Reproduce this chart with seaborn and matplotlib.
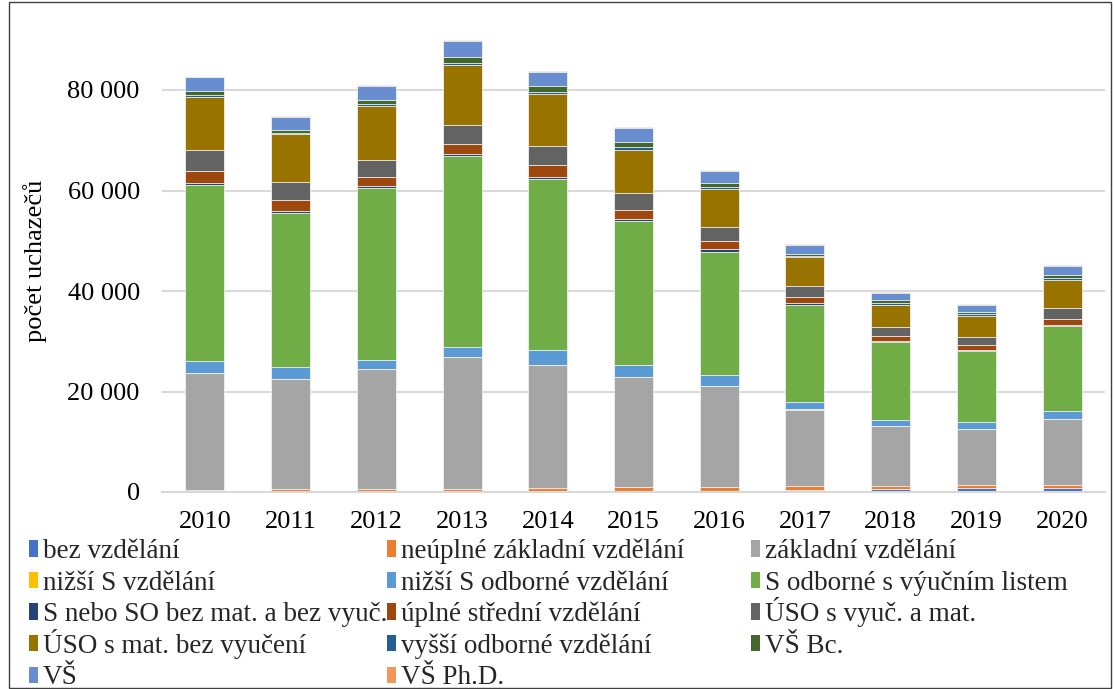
import numpy as np
import pandas as pd
import matplotlib
matplotlib.use("Agg")
import matplotlib.pyplot as plt
import seaborn as sns
from matplotlib.patches import Patch, Rectangle
from matplotlib.ticker import FuncFormatter

# ---------------- data ----------------
years = ["2010", "2011", "2012", "2013", "2014", "2015", "2016", "2017", "2018", "2019", "2020"]

series_names = [
    "bez vzdělání", "neúplné základní vzdělání", "základní vzdělání",
    "nižší S vzdělání", "nižší S odborné vzdělání", "S odborné s výučním listem",
    "S nebo SO bez mat. a bez vyuč.", "úplné střední vzdělání", "ÚSO s vyuč. a mat.",
    "ÚSO s mat. bez vyučení", "vyšší odborné vzdělání", "VŠ Bc.",
    "VŠ", "VŠ Ph.D.",
]

bez_vzdelani = [50, 50, 50, 50, 50, 50, 50, 400, 660, 860, 870]
neuplne_zakladni = [400, 600, 500, 600, 660, 860, 1000, 730, 600, 460, 530]
zakladni = [23200, 21800, 23850, 26200, 24600, 22000, 20050, 15270, 11800, 11200, 13130]
nizsi_s = [60, 50, 50, 50, 50, 50, 50, 50, 100, 100, 80]
nizsi_s_odborne = [2450, 2450, 1800, 2000, 2850, 2300, 2060, 1530, 1260, 1260, 1530]
s_odborne_vl = [34900, 30650, 34250, 37900, 34100, 28600, 24650, 19320, 15340, 14150, 16870]
s_so_bez = [460, 400, 330, 400, 400, 400, 400, 270, 270, 270, 270]
uplne_stredni = [2300, 2050, 1800, 2050, 2300, 1850, 1660, 1330, 1000, 930, 1130]
uso_vyuc_mat = [4240, 3700, 3400, 3800, 3850, 3450, 2870, 2190, 1730, 1660, 2270]
uso_mat_bez = [10600, 9400, 10750, 11900, 10300, 8550, 7530, 5580, 4500, 4180, 5530]
vyssi_odborne = [400, 200, 460, 460, 400, 530, 330, 330, 400, 270, 400]
vs_bc = [730, 730, 730, 1130, 1200, 1000, 870, 460, 460, 460, 600]
vs = [2700, 2580, 2900, 3200, 2900, 2800, 2400, 1730, 1400, 1330, 1800]
vs_phd = [150, 260, 200, 200, 200, 200, 200, 200, 260, 200, 200]

values = [bez_vzdelani, neuplne_zakladni, zakladni, nizsi_s, nizsi_s_odborne,
          s_odborne_vl, s_so_bez, uplne_stredni, uso_vyuc_mat, uso_mat_bez,
          vyssi_odborne, vs_bc, vs, vs_phd]

colors = ["#4472C4", "#ED7D31", "#A5A5A5", "#FFC000", "#5B9BD5", "#70AD47",
          "#264478", "#9E480E", "#636363", "#997300", "#255E91", "#43682B",
          "#698ED0", "#F1975A"]

# ---------------- style ----------------
sns.set_theme(style="white")
plt.rcParams["font.family"] = ["Liberation Serif", "DejaVu Serif"]
FS = 19
LFS = 19.5

W, H = 1115, 689
fig = plt.figure(figsize=(W / 100, H / 100), dpi=100)
ax = fig.add_axes([162 / W, 1 - 492 / H, (1105 - 162) / W, (492 - 29.7) / H])

# cumulative stacking (draw from top series down so lower ones overlay)
cum = np.cumsum(np.array(values, dtype=float), axis=0)
for i in range(len(series_names) - 1, -1, -1):
    df = pd.DataFrame({"rok": years, "hodnota": cum[i]})
    sns.barplot(data=df, x="rok", y="hodnota", color=colors[i], saturation=1,
                width=0.455, edgecolor="#F2F2F2", linewidth=0.6,
                errorbar=None, ax=ax, zorder=2)

ax.set_ylim(0, 92000)
ax.set_xlim(-0.5, len(years) - 0.5)
ax.set_yticks([0, 20000, 40000, 60000, 80000])
ax.yaxis.set_major_formatter(FuncFormatter(lambda v, p: f"{int(v):,}".replace(",", " ")))
ax.grid(axis="y", color="#D9D9D9", linewidth=1.5, zorder=0)
ax.grid(axis="x", visible=False)
ax.set_axisbelow(True)
for s in ["top", "right", "left"]:
    ax.spines[s].set_visible(False)
ax.spines["bottom"].set_color("#D9D9D9")
ax.spines["bottom"].set_linewidth(1.5)
ax.tick_params(axis="both", length=0, labelsize=FS, colors="black")
ax.tick_params(axis="y", pad=16)
ax.tick_params(axis="x", pad=14)
ax.set_xlabel("")
ax.set_ylabel("počet uchazečů", fontsize=FS, color="black")
ax.yaxis.set_label_coords((47 - 162) / (1105 - 162), 0.5)

# legend: 3 columns x 5 rows, row-major order, each entry placed on a fixed grid
# (anchored at the bottom so that baselines line up across columns)
col_x = [29, 387, 751]
row_bottom = [564, 595.6, 627.2, 658.8, 690.4]
for k, name in enumerate(series_names):
    r, c = divmod(k, 3)
    fig.legend([Patch(facecolor=colors[k], edgecolor="none")], [name],
               loc="lower left", bbox_to_anchor=(col_x[c] / W, 1 - row_bottom[r] / H),
               frameon=False, fontsize=LFS, handlelength=0.32, handleheight=0.55,
               handletextpad=0.2, borderpad=0, borderaxespad=0)

# chart border
fig.patches.append(Rectangle((9 / W, 1 / H), 1102 / W, 686 / H,
                             transform=fig.transFigure, fill=False,
                             edgecolor="#404040", linewidth=1.0))

fig.savefig("out.png", dpi=100)
